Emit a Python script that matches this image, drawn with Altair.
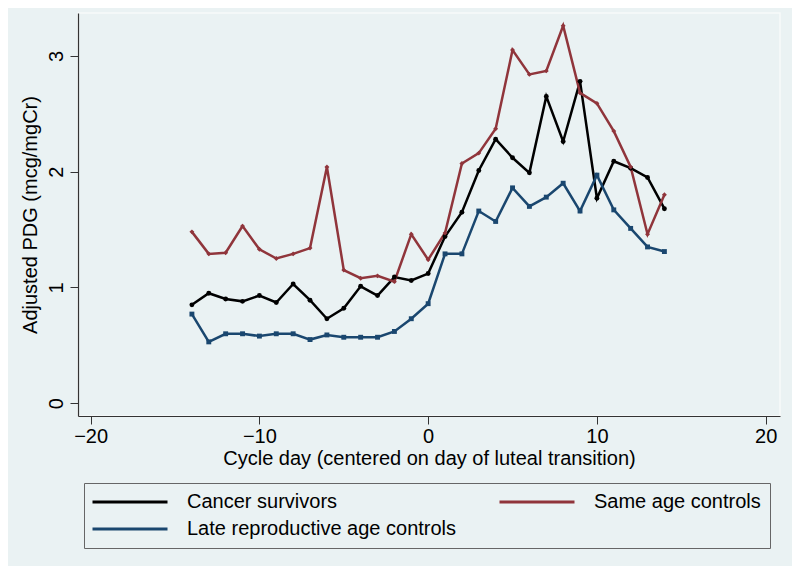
import altair as alt
import pandas as pd

days = list(range(-14, 15))
series_names = ["Cancer survivors", "Late reproductive age controls", "Same age controls"]
colors = ["#000000", "#1a476f", "#90353b"]
shapes = ["circle", "square", "diamond"]

cancer = [0.85, 0.95, 0.90, 0.88, 0.93, 0.87, 1.03, 0.89, 0.73, 0.82, 1.01, 0.93, 1.09, 1.06, 1.12,
          1.44, 1.65, 2.01, 2.28, 2.12, 1.99, 2.65, 2.26, 2.78, 1.77, 2.09, 2.03, 1.95, 1.68]
late_repro = [0.77, 0.53, 0.60, 0.60, 0.58, 0.60, 0.60, 0.55, 0.59, 0.57, 0.57, 0.57, 0.62, 0.73, 0.86,
              1.29, 1.29, 1.66, 1.57, 1.86, 1.70, 1.78, 1.90, 1.66, 1.97, 1.67, 1.51, 1.35, 1.31]
same_age = [1.48, 1.29, 1.30, 1.53, 1.33, 1.25, 1.29, 1.34, 2.04, 1.15, 1.08, 1.10, 1.05, 1.46, 1.24,
            1.47, 2.07, 2.16, 2.37, 3.05, 2.84, 2.87, 3.26, 2.68, 2.59, 2.35, 2.04, 1.46, 1.80]

rows = []
for name, vals in zip(series_names, [cancer, late_repro, same_age]):
    for d, v in zip(days, vals):
        rows.append({"day": d, "pdg": v, "series": name, "marker": name})
df = pd.DataFrame(rows)

BG = "#eaf2f3"
FONT = "Liberation Sans"

xenc = alt.X("day:Q",
             scale=alt.Scale(domain=[-20.75, 20.85], nice=False, zero=False),
             axis=alt.Axis(values=[-20, -10, 0, 10, 20], format="d",
                           title="Cycle day (centered on day of luteal transition)",
                           grid=False, tickSize=8, labelPadding=2, titlePadding=2))
yenc = alt.Y("pdg:Q",
             scale=alt.Scale(domain=[-0.11, 3.37], nice=False, zero=False),
             axis=alt.Axis(values=[0, 1, 2, 3], format="d", labelAngle=270,
                           title="Adjusted PDG (mcg/mgCr)",
                           grid=False, tickSize=8, labelPadding=4, titlePadding=6))

lines = alt.Chart(df).mark_line(strokeWidth=2.5).encode(
    x=xenc, y=yenc,
    color=alt.Color("series:N",
                    scale=alt.Scale(domain=series_names, range=colors),
                    sort=series_names,
                    legend=alt.Legend(title=None, orient="none", legendX=6, legendY=470,
                                      columns=2, columnPadding=36, rowPadding=7,
                                      symbolType="M-1.4,0H8.6", symbolSize=225,
                                      symbolStrokeWidth=3, labelOffset=74,
                                      labelFontSize=20, labelFont=FONT, labelColor="#000000",
                                      labelLimit=500, padding=9,
                                      strokeColor="#666666", fillColor=BG)),
)

points = alt.Chart(df).mark_point(filled=True, size=24, opacity=1).encode(
    x="day:Q", y="pdg:Q",
    fill=alt.Fill("marker:N", scale=alt.Scale(domain=series_names, range=colors), legend=None),
    shape=alt.Shape("marker:N", scale=alt.Scale(domain=series_names, range=shapes), legend=None),
)

chart = alt.layer(lines, points).resolve_scale(fill="independent", shape="independent").properties(
    width=702, height=403,
    background=BG,
    autosize=alt.AutoSizeParams(type="none"),
    padding={"left": 70, "top": 5, "right": 12, "bottom": 150},
).configure_view(
    fill=BG, stroke="#f7fafa", strokeWidth=1.5
).configure_axis(
    labelFont=FONT, titleFont=FONT, labelFontSize=20, titleFontSize=20,
    titleFontWeight="normal", labelColor="#000000", titleColor="#000000",
    domainColor="#333333", tickColor="#333333", domainWidth=1.2, tickWidth=1
)

chart.save("out.html", embed_options={"renderer": "svg", "actions": False})
